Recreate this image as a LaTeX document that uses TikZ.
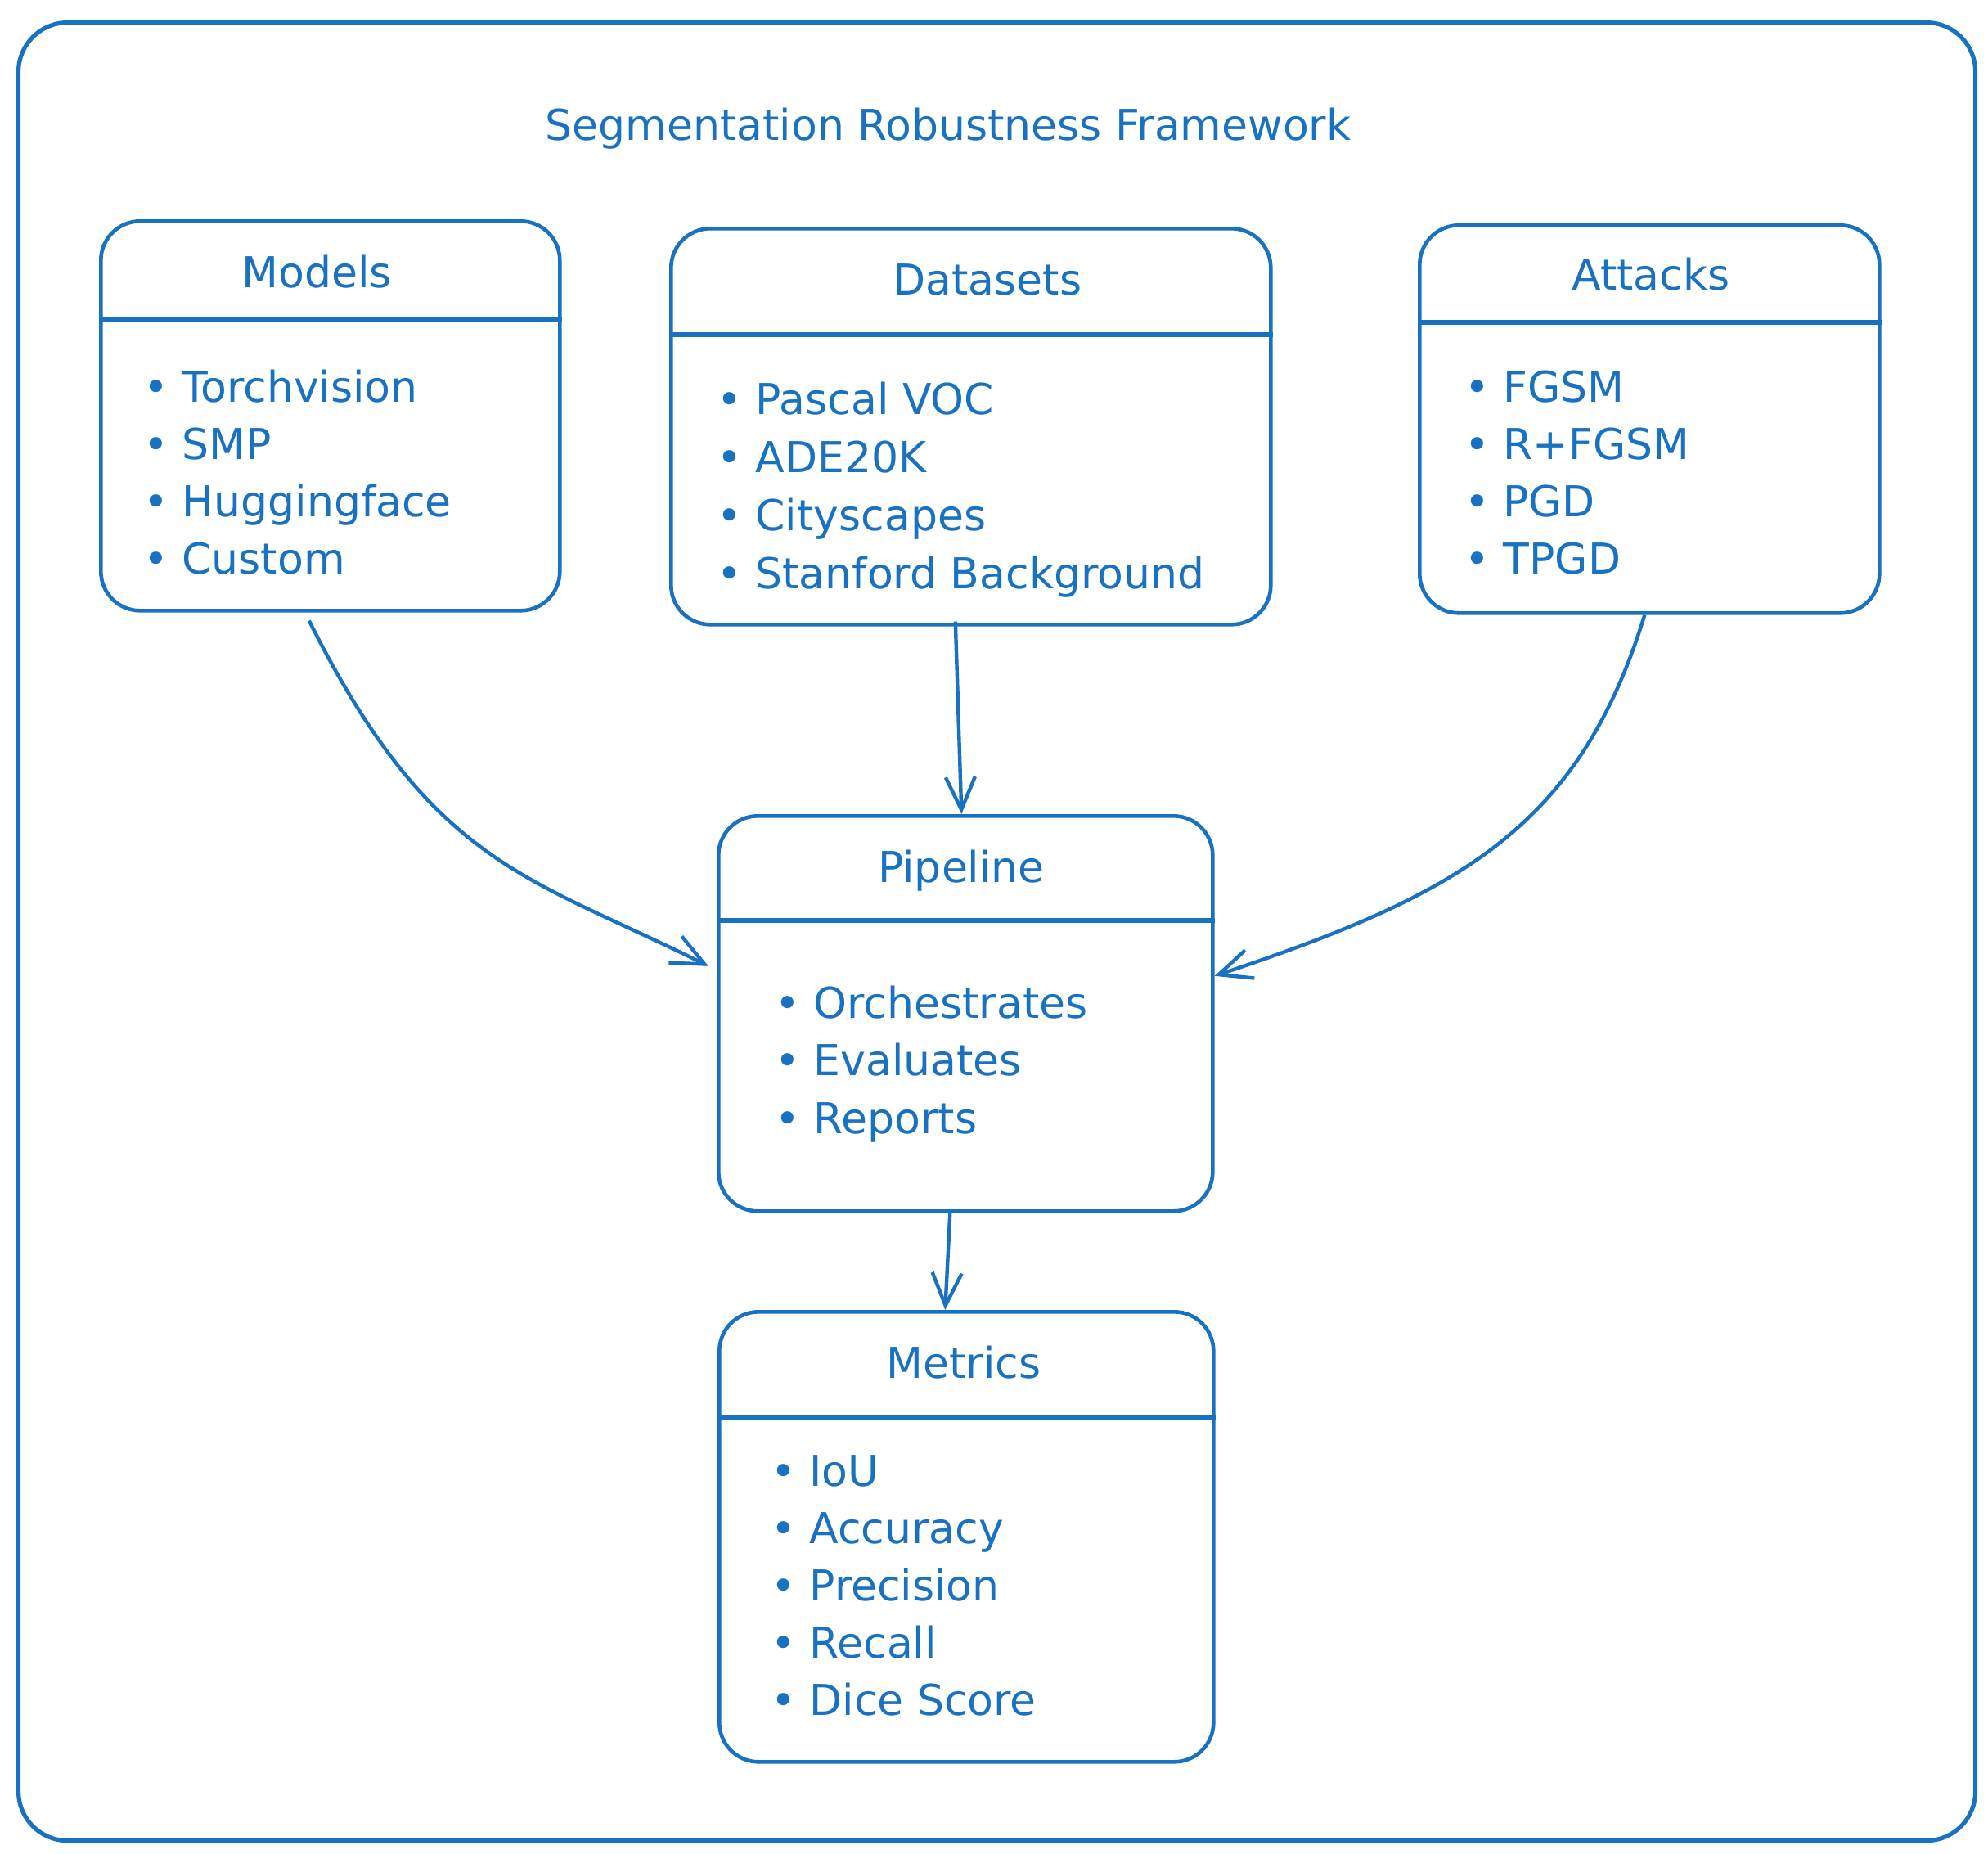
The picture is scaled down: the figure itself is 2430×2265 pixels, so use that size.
\documentclass[tikz,border=0pt]{standalone}
\usepackage{fontspec}
\setmainfont{DejaVu Sans}
\usetikzlibrary{arrows.meta,calc}
\definecolor{exblue}{HTML}{1971C2}
\begin{document}
\begin{tikzpicture}[x=0.5pt,y=-0.5pt,
  box/.style={draw=exblue, line width=2.3pt, rounded corners=24pt, anchor=north west, inner sep=0pt},
  frame/.style={draw=exblue, line width=2.6pt, rounded corners=30pt, anchor=north west, inner sep=0pt},
  hdr/.style={text=exblue, font=\fontsize{26}{31}\selectfont, inner sep=0pt, text height=0.72em, text depth=0pt},
  item/.style={hdr, anchor=west},
  divider/.style={draw=exblue, line width=2.8pt},
  conn/.style={draw=exblue, line width=2.2pt, -{Straight Barb[length=20pt,width=18pt,line width=2.2pt]}},
]
\fill[white] (0,0) rectangle (2430,2265);
\useasboundingbox (0,0) rectangle (2430,2265);

% outer frame
\node[frame, minimum width=1196pt, minimum height=1111pt] (frame) at (20,25) {};
\node[hdr] (title) at (1159,164) {Segmentation Robustness Framework};

% boxes
\node[box, minimum width=280.5pt, minimum height=238pt] (models) at (121,268) {};
\node[box, minimum width=366.5pt, minimum height=242pt] (datasets) at (818,277) {};
\node[box, minimum width=281pt, minimum height=237pt] (attacks) at (1733,273) {};
\node[box, minimum width=302pt, minimum height=241.5pt] (pipeline) at (876,995) {};
\node[box, minimum width=302pt, minimum height=275pt] (metrics) at (877,1601) {};

% dividers
\draw[divider] (models.west |- 0,391) -- (models.east |- 0,391);
\draw[divider] (datasets.west |- 0,409) -- (datasets.east |- 0,409);
\draw[divider] (attacks.west |- 0,394) -- (attacks.east |- 0,394);
\draw[divider] (pipeline.west |- 0,1125) -- (pipeline.east |- 0,1125);
\draw[divider] (metrics.west |- 0,1733) -- (metrics.east |- 0,1733);

% headers
\node[hdr] (models-t) at (387,344) {Models};
\node[hdr] (datasets-t) at (1207,353) {Datasets};
\node[hdr] (attacks-t) at (2018,347) {Attacks};
\node[hdr] (pipeline-t) at (1175,1071) {Pipeline};
\node[hdr] (metrics-t) at (1178,1677) {Metrics};

% items
\foreach \t [count=\i from 0] in {Torchvision,SMP,Huggingface,Custom}
  \node[item] (models-\i) at (175,{484+70*\i}) {• \t};
\foreach \t [count=\i from 0] in {Pascal VOC,ADE20K,Cityscapes,Stanford Background}
  \node[item] (datasets-\i) at (876,{499+71*\i}) {• \t};
\foreach \t [count=\i from 0] in {FGSM,R+FGSM,PGD,TPGD}
  \node[item] (attacks-\i) at (1790,{484+70*\i}) {• \t};
\foreach \t [count=\i from 0] in {Orchestrates,Evaluates,Reports}
  \node[item] (pipeline-\i) at (947,{1237+70.5*\i}) {• \t};
\foreach \t [count=\i from 0] in {IoU,Accuracy,Precision,Recall,Dice Score}
  \node[item] (metrics-\i) at (942,{1809+70*\i}) {• \t};

% connectors
\draw[conn] ([xshift=-13pt,yshift=-5pt]models.south) .. controls +(150,300) and +(-220,-110) .. ([xshift=-5pt,yshift=29pt]pipeline.west);
\draw[conn] ([xshift=-9.5pt,yshift=3pt]datasets.south) -- ([xshift=-2.5pt]pipeline.north);
\draw[conn] ([xshift=-3pt]attacks.south) .. controls +(-80,260) and +(300,-100) .. ([yshift=23pt]pipeline.east);
\draw[conn] ([xshift=-9.5pt]pipeline.south) -- ([xshift=-13pt]metrics.north);
\end{tikzpicture}
\end{document}
